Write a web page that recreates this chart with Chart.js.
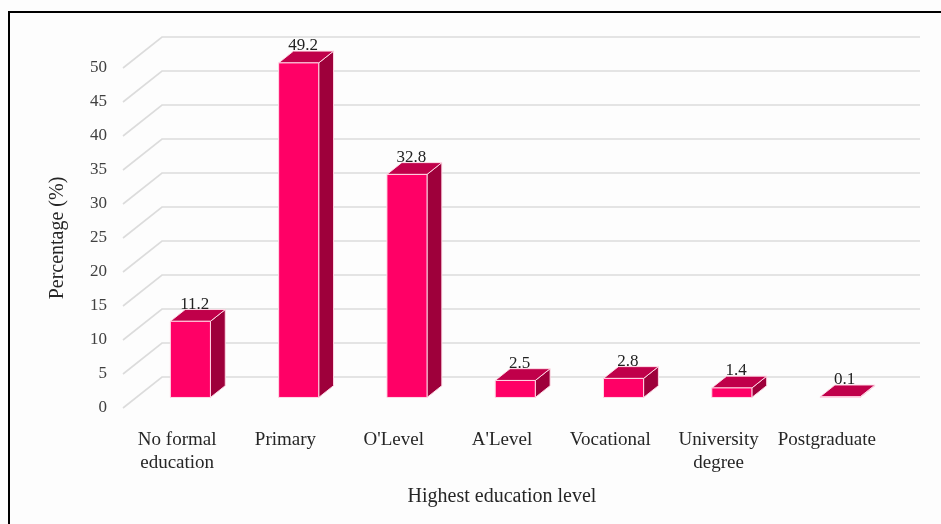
<!DOCTYPE html>
<html>
<head>
<meta charset="utf-8">
<script src="https://cdn.jsdelivr.net/npm/chart.js@4.4.0/dist/chart.umd.min.js"></script>
<style>
  html, body { margin: 0; padding: 0; background: #fff; }
  #wrap { position: relative; width: 941px; height: 524px; }
</style>
</head>
<body>
<div id="wrap"><canvas id="eduChart" width="941" height="524"></canvas></div>
<script>
// =============================
// DATA
// =============================
const categories = [
  ['No formal', 'education'], 'Primary', "O'Level", "A'Level",
  'Vocational', ['University', 'degree'], 'Postgraduate'
];
const percentages = [11.2, 49.2, 32.8, 2.5, 2.8, 1.4, 0.1];
const yMin = 0;
const yMax = 50;
const yStep = 5;

// =============================
// 3D LOOK (Excel style)
// =============================
const DEPTH_X = 39, DEPTH_Y = -31;     // front plane -> back wall
const BAR_FRONT = 0.34, BAR_BACK = 0.72; // bar slab inside the depth
const SERIF = "'Liberation Serif', 'Times New Roman', serif";

const COL_FRONT = '#ff0066';
const COL_SIDE = '#9e003b';
const COL_TOP = '#c0004a';

const wallGrid = {
  id: 'wallGrid',
  beforeDatasetsDraw(chart) {
    const { ctx, chartArea: area } = chart;
    const y = chart.scales.y;
    ctx.save();
    ctx.strokeStyle = '#dcdcdc';
    ctx.lineWidth = 1.6;
    y.ticks.forEach(t => {
      const py = y.getPixelForValue(t.value);
      ctx.beginPath();
      ctx.moveTo(area.left, py);
      ctx.lineTo(area.left + DEPTH_X, py + DEPTH_Y);
      ctx.lineTo(area.right + DEPTH_X, py + DEPTH_Y);
      ctx.stroke();
    });
    ctx.restore();
  }
};

const bars3d = {
  id: 'bars3d',
  afterDatasetsDraw(chart) {
    const { ctx } = chart;
    const meta = chart.getDatasetMeta(0);
    const ox = DEPTH_X * BAR_FRONT, oy = DEPTH_Y * BAR_FRONT;
    const dx = DEPTH_X * (BAR_BACK - BAR_FRONT), dy = DEPTH_Y * (BAR_BACK - BAR_FRONT);

    ctx.save();
    ctx.lineWidth = 1;
    ctx.strokeStyle = 'rgba(255,220,232,0.95)';
    ctx.lineJoin = 'round';

    meta.data.forEach((bar, i) => {
      const half = bar.width / 2;
      const x0 = bar.x - half + ox, x1 = bar.x + half + ox;
      const yTop = bar.y + oy, yBase = bar.base + oy;

      // side
      ctx.beginPath();
      ctx.moveTo(x1, yTop);
      ctx.lineTo(x1 + dx, yTop + dy);
      ctx.lineTo(x1 + dx, yBase + dy);
      ctx.lineTo(x1, yBase);
      ctx.closePath();
      ctx.fillStyle = COL_SIDE;
      ctx.fill();
      ctx.stroke();

      // top
      ctx.beginPath();
      ctx.moveTo(x0, yTop);
      ctx.lineTo(x0 + dx, yTop + dy);
      ctx.lineTo(x1 + dx, yTop + dy);
      ctx.lineTo(x1, yTop);
      ctx.closePath();
      ctx.fillStyle = COL_TOP;
      ctx.fill();
      ctx.stroke();

      // front
      ctx.fillStyle = COL_FRONT;
      ctx.fillRect(x0, yTop, x1 - x0, yBase - yTop);
      ctx.strokeRect(x0, yTop, x1 - x0, yBase - yTop);

      // value label
      ctx.fillStyle = '#222';
      ctx.font = '17px ' + SERIF;
      ctx.textAlign = 'center';
      ctx.textBaseline = 'alphabetic';
      ctx.fillText(percentages[i].toFixed(1), bar.x + ox + dx / 2 - 3, yTop + dy - 1);
    });
    ctx.restore();
  }
};

const frame = {
  id: 'frame',
  beforeDraw(chart) {
    const { ctx } = chart;
    ctx.save();
    ctx.fillStyle = '#fdfdfd';
    ctx.fillRect(0, 0, chart.width, chart.height);
    ctx.restore();
  },
  afterDraw(chart) {
    const { ctx } = chart;
    ctx.save();
    ctx.fillStyle = '#000';
    ctx.fillRect(8, 11, chart.width, 2);
    ctx.fillRect(8, 11, 2, chart.height);
    ctx.restore();
  }
};

// =============================
// CHART
// =============================
new Chart(document.getElementById('eduChart'), {
  type: 'bar',
  data: {
    labels: categories,
    datasets: [{
      data: percentages,
      backgroundColor: 'rgba(0,0,0,0)',
      borderWidth: 0,
      categoryPercentage: 1,
      barPercentage: 0.37
    }]
  },
  options: {
    responsive: false,
    animation: false,
    layout: { padding: { left: 40, top: 68, right: 60, bottom: 0 } },
    plugins: {
      legend: { display: false },
      tooltip: { enabled: false }
    },
    scales: {
      x: {
        grid: { display: false, drawTicks: false },
        border: { display: false },
        afterFit: s => { s.height = 116; },
        ticks: {
          color: '#262626',
          padding: 21,
          maxRotation: 0,
          autoSkip: false,
          font: { family: SERIF, size: 19, lineHeight: 1.18 }
        },
        title: {
          display: true,
          text: 'Highest education level',
          color: '#262626',
          font: { family: SERIF, size: 20 },
          padding: { top: 0, bottom: 15 }
        }
      },
      y: {
        min: yMin,
        max: yMax,
        grid: { display: false, drawTicks: false },
        border: { display: false },
        afterFit: s => { s.width = 83; },
        ticks: {
          stepSize: yStep,
          color: '#404040',
          padding: 16,
          font: { family: SERIF, size: 17 }
        },
        title: {
          display: true,
          text: 'Percentage (%)',
          color: '#262626',
          font: { family: SERIF, size: 20 },
          padding: { top: 6, bottom: 0 }
        }
      }
    }
  },
  plugins: [frame, wallGrid, bars3d]
});
</script>
</body>
</html>
